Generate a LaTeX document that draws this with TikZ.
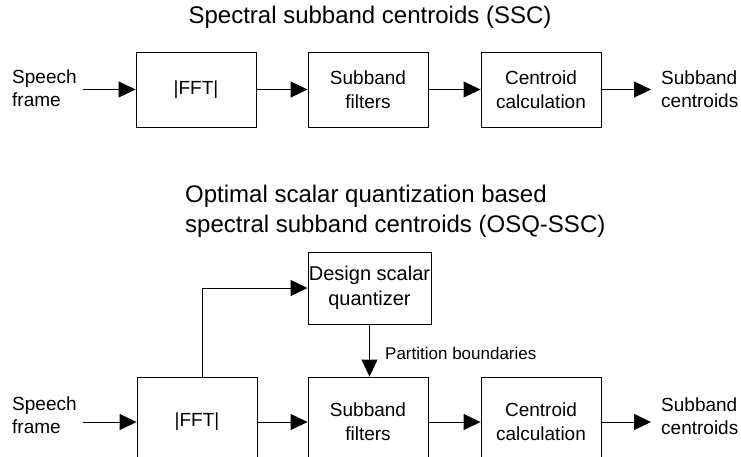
\documentclass[tikz,border=0pt]{standalone}
\usepackage{fontspec}
\setmainfont{Liberation Sans}
\usetikzlibrary{arrows.meta}
\begin{document}
\begin{tikzpicture}[x=1pt,y=-1pt,
  blk/.style={draw, line width=0.9pt, minimum width=120pt, minimum height=75pt, inner sep=0pt, align=center, font=\fontsize{19}{24}\selectfont},
  lbl/.style={align=left, font=\fontsize{19}{23}\selectfont, inner sep=0pt},
  ttl/.style={align=left, font=\fontsize{24}{30}\selectfont, inner sep=0pt},
  small/.style={font=\fontsize{17}{20}\selectfont, inner sep=0pt},
  arr/.style={line width=0.9pt, -{Triangle[length=17pt,width=16pt]}}]
\useasboundingbox (0,0) rectangle (741,456);
\clip (0,0) rectangle (741,456);
% titles
\node[ttl] (t1) at (370,17) {Spectral subband centroids (SSC)};
\node[ttl, anchor=west] (t2) at (185,211) {Optimal scalar quantization based\\spectral subband centroids (OSQ-SSC)};
% top row
\node[blk] (fft1) at (196,89.5) {|FFT|};
\node[blk] (sf1) at (368,89.5) {Subband\\filters};
\node[blk] (cc1) at (541,89.5) {Centroid\\calculation};
\node[lbl, anchor=west] (sp1) at (12,88) {Speech\\frame};
\node[lbl, anchor=west] (sc1) at (661,89) {Subband\\centroids};
\coordinate (in1) at (83,89.5);
\coordinate (out1) at (651,89.5);
\draw[arr] (in1) -- (fft1.west);
\draw[arr] (fft1.east) -- (sf1.west);
\draw[arr] (sf1.east) -- (cc1.west);
\draw[arr] (cc1.east) -- (out1);
% bottom row
\node[blk, minimum height=90pt] (fft2) at (197,422) {|FFT|};
\node[blk, minimum height=90pt] (sf2) at (368,422) {Subband\\filters};
\node[blk, minimum height=90pt] (cc2) at (541,422) {Centroid\\calculation};
\node[blk, minimum width=123pt, minimum height=72pt, font=\fontsize{20}{25}\selectfont] (dq) at (369.5,288) {Design scalar\\quantizer};
\node[lbl, anchor=west] (sp2) at (12,415) {Speech\\frame};
\node[lbl, anchor=west] (sc2) at (661,416) {Subband\\centroids};
\coordinate (in2) at (83,422);
\coordinate (out2) at (651,422);
\draw[arr] (in2) -- (fft2.west);
\draw[arr] (fft2.east) -- (sf2.west);
\draw[arr] (sf2.east) -- (cc2.west);
\draw[arr] (cc2.east) -- (out2);
\draw[arr] ([xshift=5pt]fft2.north) |- (dq.west);
\draw[arr] (dq.south) -- (dq.south |- sf2.north);
\node[small, anchor=west] (pb) at (385,353) {Partition boundaries};
\end{tikzpicture}
\end{document}
